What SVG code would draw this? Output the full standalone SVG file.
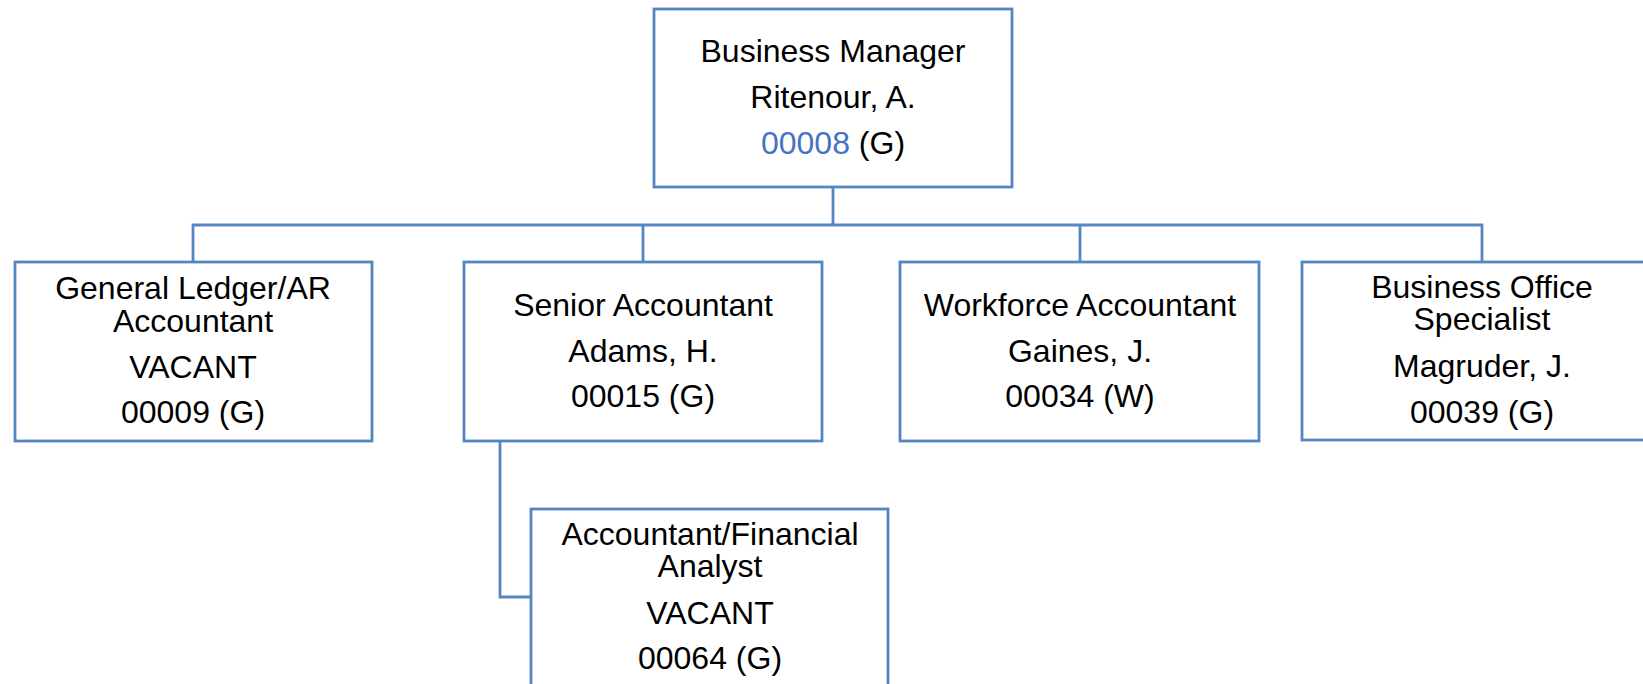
<svg xmlns="http://www.w3.org/2000/svg" width="1643" height="684" viewBox="0 0 1643 684">
<style>
.box{fill:#fff;stroke:#5586C2;stroke-width:2.8}
.con{fill:none;stroke:#5586C2;stroke-width:2.8}
text{font-family:"Liberation Sans",Arial,sans-serif;font-size:32px;fill:#000;text-anchor:middle}
.blue{fill:#4472C4}
</style>
<rect width="1643" height="684" fill="#fff"/>
<g id="connectors">
<path class="con" d="M833,187 V225"/>
<path class="con" d="M193,262 V225 H1482 V262"/>
<path class="con" d="M643,225 V262"/>
<path class="con" d="M1080,225 V262"/>
<path class="con" d="M500,441 V597 H531"/>
</g>
<g id="business-manager">
<rect class="box" x="654" y="9" width="358" height="178"/>
<text x="833" y="62">Business Manager</text>
<text x="833" y="108">Ritenour, A.</text>
<text x="833" y="154"><tspan class="blue">00008</tspan> (G)</text>
</g>
<g id="gl-ar-accountant">
<rect class="box" x="15" y="262" width="357" height="179"/>
<text x="193" y="299">General Ledger/AR</text>
<text x="193" y="332">Accountant</text>
<text x="193" y="378">VACANT</text>
<text x="193" y="423">00009 (G)</text>
</g>
<g id="senior-accountant">
<rect class="box" x="464" y="262" width="358" height="179"/>
<text x="643" y="316">Senior Accountant</text>
<text x="643" y="362">Adams, H.</text>
<text x="643" y="407">00015 (G)</text>
</g>
<g id="workforce-accountant">
<rect class="box" x="900" y="262" width="359" height="179"/>
<text x="1080" y="316">Workforce Accountant</text>
<text x="1080" y="362">Gaines, J.</text>
<text x="1080" y="407">00034 (W)</text>
</g>
<g id="business-office-specialist">
<rect class="box" x="1302" y="262" width="360" height="178"/>
<text x="1482" y="298">Business Office</text>
<text x="1482" y="330">Specialist</text>
<text x="1482" y="377">Magruder, J.</text>
<text x="1482" y="423">00039 (G)</text>
</g>
<g id="accountant-financial-analyst">
<rect class="box" x="531" y="509" width="357" height="190"/>
<text x="710" y="545">Accountant/Financial</text>
<text x="710" y="577">Analyst</text>
<text x="710" y="624">VACANT</text>
<text x="710" y="669">00064 (G)</text>
</g>
</svg>
